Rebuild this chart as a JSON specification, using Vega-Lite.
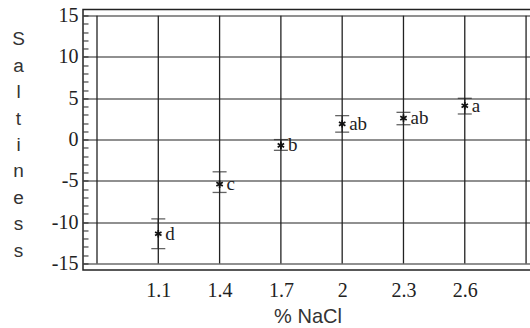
{
  "$schema": "https://vega.github.io/schema/vega-lite/v6.json",
  "autosize": "none",
  "padding": {"left": 83, "top": 9.5, "right": 0, "bottom": 58},
  "width": 449,
  "height": 260.6,
  "background": "white",
  "config": {
    "view": {"stroke": "#222", "strokeWidth": 1.5},
    "axis": {"labelFont": "Liberation Serif", "labelFontSize": 20, "labelColor": "#222", "titleFont": "Liberation Sans", "titleFontWeight": "normal", "titleColor": "#333", "labelOverlap": false}
  },
  "datasets": {
    "pts": [
      {"nacl": 1.1, "mean": -11.4, "lo": -13.2, "hi": -9.6, "group": "d"},
      {"nacl": 1.4, "mean": -5.4, "lo": -6.4, "hi": -3.9, "group": "c"},
      {"nacl": 1.7, "mean": -0.7, "lo": -1.3, "hi": 0.0, "group": "b"},
      {"nacl": 2.0, "mean": 1.9, "lo": 0.9, "hi": 2.9, "group": "ab"},
      {"nacl": 2.3, "mean": 2.6, "lo": 1.8, "hi": 3.3, "group": "ab"},
      {"nacl": 2.6, "mean": 4.1, "lo": 3.1, "hi": 5.0, "group": "a"}
    ],
    "grid": [
      {"nacl": 0.8}, {"nacl": 1.1}, {"nacl": 1.4}, {"nacl": 1.7},
      {"nacl": 2.0}, {"nacl": 2.3}, {"nacl": 2.6}, {"nacl": 2.9}
    ]
  },
  "layer": [
    {
      "data": {"name": "pts"},
      "mark": {"type": "rule", "color": "#222", "strokeWidth": 1.2},
      "encoding": {
        "x": {
          "field": "nacl", "type": "quantitative",
          "scale": {"domain": [0.7315, 2.929], "nice": false, "zero": false},
          "axis": {
            "values": [1.1, 1.4, 1.7, 2.0, 2.3, 2.6],
            "tickCount": 20,
            "labelExpr": "'' + datum.value",
            "ticks": false, "domain": false, "grid": false,
            "labelPadding": 10,
            "title": "% NaCl", "titleFontSize": 20, "titlePadding": 6
          }
        },
        "y": {
          "field": "lo", "type": "quantitative",
          "scale": {"domain": [-15.8, 15.75], "nice": false, "zero": false},
          "axis": {
            "values": [-15,-14,-13,-12,-11,-10,-9,-8,-7,-6,-5,-4,-3,-2,-1,0,1,2,3,4,5,6,7,8,9,10,11,12,13,14,15],
            "tickCount": 50,
            "labelExpr": "datum.value % 5 === 0 ? '' + datum.value : ''",
            "tickSize": -5, "tickColor": "#222", "tickWidth": 1,
            "labelPadding": 10,
            "domain": false,
            "grid": true, "gridColor": "#222", "gridWidth": 1.2,
            "gridOpacity": {"condition": {"test": "datum.value % 5 === 0", "value": 1}, "value": 0},
            "title": ["S","a","l","t","i","n","e","s","s"],
            "titleAngle": 0, "titleFontSize": 19, "titleLineHeight": 26.4,
            "titleAlign": "center", "titleBaseline": "middle",
            "titleX": -65, "titleY": 29.5
          }
        },
        "y2": {"field": "hi"}
      }
    },
    {
      "data": {"name": "grid"},
      "mark": {"type": "rule", "color": "#222", "strokeWidth": 1.3},
      "encoding": {
        "x": {"field": "nacl", "type": "quantitative"},
        "y": {"datum": -15, "type": "quantitative"},
        "y2": {"datum": 15}
      }
    },
    {
      "data": {"name": "pts"},
      "mark": {"type": "tick", "orient": "horizontal", "color": "#222", "size": 14, "thickness": 1.3},
      "encoding": {
        "x": {"field": "nacl", "type": "quantitative"},
        "y": {"field": "lo", "type": "quantitative"}
      }
    },
    {
      "data": {"name": "pts"},
      "mark": {"type": "tick", "orient": "horizontal", "color": "#222", "size": 14, "thickness": 1.3},
      "encoding": {
        "x": {"field": "nacl", "type": "quantitative"},
        "y": {"field": "hi", "type": "quantitative"}
      }
    },
    {
      "data": {"name": "pts"},
      "mark": {"type": "point", "shape": "M0,-1L0,1M-0.87,-0.5L0.87,0.5M-0.87,0.5L0.87,-0.5", "size": 55, "stroke": "#111", "strokeWidth": 1.7, "filled": false, "opacity": 1},
      "encoding": {
        "x": {"field": "nacl", "type": "quantitative"},
        "y": {"field": "mean", "type": "quantitative"}
      }
    },
    {
      "data": {"name": "pts"},
      "mark": {"type": "text", "align": "left", "baseline": "middle", "dx": 7, "font": "Liberation Serif", "fontSize": 19, "color": "#222"},
      "encoding": {
        "x": {"field": "nacl", "type": "quantitative"},
        "y": {"field": "mean", "type": "quantitative"},
        "text": {"field": "group"}
      }
    }
  ]
}
